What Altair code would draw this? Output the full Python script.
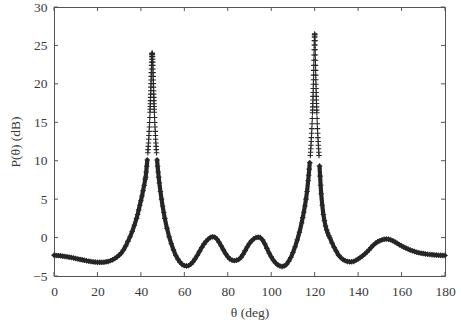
import altair as alt
import numpy as np
import pandas as pd

# ---- data (theta in degrees, P in dB) ----
theta_a = np.linspace(0, 37, 38)
p_a = [-2.30, -2.32, -2.35, -2.38, -2.42, -2.46, -2.50, -2.55, -2.60, -2.66,
       -2.72, -2.78, -2.84, -2.90, -2.96, -3.02, -3.07, -3.12, -3.16, -3.19,
       -3.21, -3.22, -3.22, -3.20, -3.16, -3.10, -3.00, -2.88, -2.72, -2.52,
       -2.30, -2.00, -1.60, -1.10, -0.50, 0.10, 0.80, 1.60]

theta_b = np.linspace(38, 42, 9)
p_b = [2.5, 3.0, 3.6, 4.2, 4.8, 5.4, 6.1, 6.8, 7.6]

theta_p1 = np.concatenate([[42.2, 42.45, 42.7, 42.95],
                           np.linspace(43.2, 44.1, 10),
                           np.linspace(44.2, 46.2, 41),
                           np.linspace(46.3, 47.2, 10),
                           [47.45, 47.7, 47.95, 48.2]])
p_p1 = [7.87, 8.54, 9.28, 10.10,
        11.04, 11.44, 11.87, 12.31, 12.79, 13.28, 13.82, 14.38, 14.98, 15.63,
        16.30, 16.69, 17.05, 17.42, 17.82, 18.24, 18.67, 19.11, 19.57, 20.03,
        20.50, 20.98, 21.46, 21.94, 22.40, 22.83, 23.21, 23.54, 23.79, 23.94,
        24.00,
        23.94, 23.79, 23.54, 23.21, 22.83, 22.40, 21.94, 21.46, 20.98, 20.50,
        20.03, 19.57, 19.11, 18.67, 18.24, 17.82, 17.42, 17.05, 16.69, 16.30,
        15.63, 14.98, 14.38, 13.82, 13.28, 12.79, 12.31, 11.87, 11.44, 11.04,
        10.10, 9.28, 8.54, 7.87]

theta_c = np.linspace(48.5, 50.5, 5)
p_c = [7.1, 6.0, 5.0, 4.1, 3.3]

theta_d = np.linspace(51, 114, 64)
p_d = [2.50, 1.20, 0.10, -0.80, -1.60, -2.30, -2.80, -3.20, -3.50, -3.65,
       -3.70, -3.65, -3.45, -3.15, -2.75, -2.30, -1.80, -1.30, -0.85, -0.50,
       -0.20, 0.00, 0.10, 0.05, -0.20, -0.60, -1.10, -1.60, -2.10, -2.50,
       -2.80, -2.95, -3.00, -2.95, -2.85, -2.60, -2.20, -1.70, -1.20, -0.75,
       -0.40, -0.15, 0.00, 0.05, 0.00, -0.30, -0.80, -1.40, -2.00, -2.50,
       -2.95, -3.30, -3.55, -3.70, -3.75, -3.70, -3.50, -3.10, -2.60, -1.95,
       -1.20, -0.30, 0.70, 1.90]

theta_e = np.linspace(114.5, 116.5, 5)
p_e = [2.6, 3.3, 4.1, 5.0, 6.0]

theta_p2 = np.concatenate([[117.0, 117.25, 117.5, 117.75],
                           np.linspace(118.0, 118.9, 10),
                           np.linspace(119.0, 121.0, 41),
                           np.linspace(121.1, 122.0, 10),
                           [122.25, 122.5, 122.75, 123.0]])
p_p2 = [7.40, 8.10, 8.90, 9.75,
        10.68, 11.11, 11.55, 12.01, 12.50, 13.01, 13.58, 14.17, 14.80, 15.49,
        16.24, 16.58, 17.00, 17.44, 17.89, 18.37, 18.87, 19.40, 19.95, 20.53,
        21.13, 21.76, 22.41, 23.08, 23.76, 24.43, 25.06, 25.63, 26.09, 26.39,
        26.50,
        26.39, 26.09, 25.63, 25.06, 24.43, 23.76, 23.08, 22.41, 21.76, 21.13,
        20.53, 19.95, 19.40, 18.87, 18.37, 17.89, 17.44, 17.00, 16.58, 16.24,
        15.49, 14.80, 14.17, 13.58, 13.01, 12.50, 12.01, 11.55, 11.11, 10.68,
        9.30, 8.00, 6.80, 5.70]

theta_f = np.linspace(123.5, 126.5, 7)
p_f = [4.2, 3.0, 2.2, 1.5, 1.0, 0.6, 0.25]

theta_g = np.linspace(127, 180, 54)
p_g = [-0.05, -0.70, -1.30, -1.80, -2.30, -2.60, -2.85, -3.00, -3.10, -3.15,
       -3.15, -3.10, -2.95, -2.80, -2.60, -2.40, -2.15, -1.90, -1.60, -1.30,
       -1.00, -0.75, -0.55, -0.40, -0.30, -0.22, -0.20, -0.22, -0.30, -0.42,
       -0.58, -0.75, -0.92, -1.08, -1.23, -1.37, -1.50, -1.62, -1.73, -1.82,
       -1.90, -1.97, -2.03, -2.08, -2.13, -2.17, -2.20, -2.23, -2.26, -2.28,
       -2.30, -2.31, -2.32, -2.33]

x_ticks = [0, 20, 40, 60, 80, 100, 120, 140, 160, 180]
y_ticks = [-5, 0, 5, 10, 15, 20, 25, 30]

theta = np.concatenate([theta_a, theta_b, theta_p1, theta_c, theta_d,
                        theta_e, theta_p2, theta_f, theta_g])
power = np.concatenate([p_a, p_b, p_p1, p_c, p_d, p_e, p_p2, p_f, p_g])
df = pd.DataFrame({"theta": np.round(theta, 3), "P": power})

W, H = 391, 269
FONT = "Liberation Serif"
TXT = "#3a3a3a"
INK = "#262626"

xs = alt.Scale(domain=[0, 180], nice=False, zero=False)
ys = alt.Scale(domain=[-5, 30], nice=False, zero=False)

x_axis = alt.Axis(values=x_ticks, title="θ (deg)", ticks=False,
                  domain=False, grid=False, labelPadding=8,
                  labelFlush=False, labelOverlap=False,
                  titlePadding=8, format="d")
y_axis = alt.Axis(values=y_ticks, title="P(θ) (dB)", ticks=False,
                  domain=False, grid=False, labelPadding=7,
                  labelFlush=False, labelOverlap=False,
                  titlePadding=10, format="d")

# thick band where the markers overlap into a solid stroke (low part)
band = alt.Chart(df).transform_calculate(
    Pl="datum.P < 10.5 ? datum.P : null"
).mark_line(color=INK, strokeWidth=4.2, strokeCap="round", strokeJoin="round").encode(
    x=alt.X("theta:Q", scale=xs, axis=x_axis),
    y=alt.Y("Pl:Q", scale=ys, axis=y_axis),
)

points = alt.Chart(df).mark_point(
    shape="M-1,0L1,0M0,-1L0,1", filled=False, strokeWidth=1.1,
    size=30, color=INK, opacity=1
).encode(
    x=alt.X("theta:Q", scale=xs, axis=x_axis),
    y=alt.Y("P:Q", scale=ys, axis=y_axis),
)

xt = pd.DataFrame({"t": x_ticks})
yt = pd.DataFrame({"t": y_ticks})
tick_color = "#555555"

bottom_ticks = alt.Chart(xt).mark_rule(color=tick_color, strokeWidth=1).encode(
    x=alt.X("t:Q", scale=xs, axis=x_axis), y=alt.value(H), y2=alt.value(H - 4))
top_ticks = alt.Chart(xt).mark_rule(color=tick_color, strokeWidth=1).encode(
    x=alt.X("t:Q", scale=xs, axis=x_axis), y=alt.value(0), y2=alt.value(4))
left_ticks = alt.Chart(yt).mark_rule(color=tick_color, strokeWidth=1).encode(
    y=alt.Y("t:Q", scale=ys, axis=y_axis), x=alt.value(0), x2=alt.value(4))
right_ticks = alt.Chart(yt).mark_rule(color=tick_color, strokeWidth=1).encode(
    y=alt.Y("t:Q", scale=ys, axis=y_axis), x=alt.value(W), x2=alt.value(W - 4))

chart = alt.layer(band, points, bottom_ticks, top_ticks, left_ticks, right_ticks).properties(
    width=W, height=H,
    autosize=alt.AutoSizeParams(type="none"),
    padding={"left": 54, "top": 7, "right": 16, "bottom": 50},
    background="white",
).configure_view(
    stroke="#555555", strokeWidth=1
).configure_axis(
    labelFont=FONT, labelFontSize=13.5, labelColor=TXT,
    titleFont=FONT, titleFontSize=13.5, titleColor=TXT, titleFontWeight="normal",
    labelOverlap=False, labelFlush=False,
)

chart.save("out.html", embed_options={"renderer": "svg", "actions": False})
